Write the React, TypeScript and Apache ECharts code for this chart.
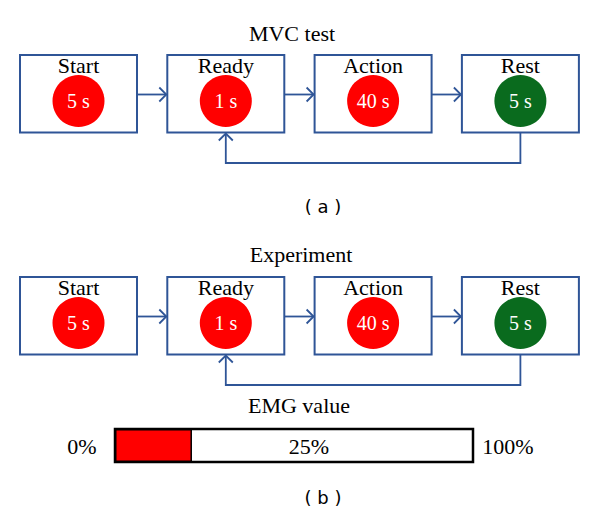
import React, { useEffect, useRef } from 'react';
import * as echarts from 'echarts';

// ---- data ----
const stages = ['Start', 'Ready', 'Action', 'Rest'];
const durations = ['5 s', '1 s', '40 s', '5 s'];
const stageIsRest = [false, false, false, true];
const panelTitles = ['MVC test', 'Experiment'];
const panelTags = ['( a )', '( b )'];
const emgTitle = 'EMG value';
const emgFill = [21.5];
const emgReading = '25%';
const emgEnds = ['0%', '100%'];
const emgCategory = ['EMG'];

// ---- styles / layout ----
const BLUE = '#2F5597';
const RED = '#FF0000';
const GREEN = '#0A6B1E';
const SERIF = "'Liberation Serif', serif";
const SANS = "'DejaVu Sans', sans-serif";
const W = 600;
const H = 513;
const BOX_X0 = 20;
const BOX_STEP = 147.3;
const BOX_W = 117;
const BOX_H = 77.5;
const PANEL_TOPS = [55, 277];
const R = 26;

function makeRender(panel: number) {
  const top = PANEL_TOPS[panel];
  return (params: any, api: any) => {
    const i = api.value(0);
    const left = BOX_X0 + i * BOX_STEP;
    const [x0, y0] = api.coord([left, top]);
    const [x1, y1] = api.coord([left + BOX_W, top + BOX_H]);
    const cx = (x0 + x1) / 2;
    const cy = api.coord([0, top + 46])[1];
    const ly = api.coord([0, top + 10.5])[1];
    const children: any[] = [
      {
        type: 'rect',
        shape: { x: x0, y: y0, width: x1 - x0, height: y1 - y0 },
        style: { fill: '#fff', stroke: BLUE, lineWidth: 2 },
      },
      {
        type: 'text',
        x: cx,
        y: ly,
        style: { text: stages[i], fill: '#000', font: `22px ${SERIF}`, align: 'center', verticalAlign: 'middle' },
      },
      {
        type: 'circle',
        shape: { cx, cy, r: R },
        style: { fill: stageIsRest[i] ? GREEN : RED },
      },
      {
        type: 'text',
        x: cx,
        y: cy,
        style: { text: durations[i], fill: '#fff', font: `20px ${SERIF}`, align: 'center', verticalAlign: 'middle' },
      },
    ];
    const lineStyle = { stroke: BLUE, lineWidth: 1.8, fill: null };
    if (i < stages.length - 1) {
      const ay = api.coord([0, top + 39.5])[1];
      const nx = api.coord([BOX_X0 + (i + 1) * BOX_STEP, 0])[0];
      children.push({ type: 'line', shape: { x1, y1: ay, x2: nx - 1, y2: ay }, style: lineStyle });
      children.push({
        type: 'polyline',
        shape: { points: [[nx - 8, ay - 7], [nx - 1, ay], [nx - 8, ay + 7]] },
        style: lineStyle,
      });
    } else {
      const loopY = api.coord([0, top + 108])[1];
      const rx = api.coord([BOX_X0 + BOX_STEP + BOX_W / 2, 0])[0];
      children.push({
        type: 'polyline',
        shape: { points: [[cx, y1], [cx, loopY], [rx, loopY], [rx, y1 + 1]] },
        style: lineStyle,
      });
      children.push({
        type: 'polyline',
        shape: { points: [[rx - 7, y1 + 8], [rx, y1 + 1], [rx + 7, y1 + 8]] },
        style: lineStyle,
      });
    }
    return { type: 'group', children };
  };
}

export default function App() {
  const ref = useRef<HTMLDivElement>(null);
  useEffect(() => {
    if (!ref.current) return;
    const chart = echarts.init(ref.current, null, { renderer: 'svg' });
    const textEl = (text: string, x: number, y: number, size: number, family: string) => ({
      type: 'text',
      x,
      y,
      style: { text, fill: '#000', font: `${size}px ${family}`, align: 'center', verticalAlign: 'middle' },
    });
    chart.setOption({
      animation: false,
      backgroundColor: '#fff',
      grid: [
        { left: 0, top: 0, width: W, height: H },
        { left: 115, top: 429, width: 358, height: 33 },
      ],
      xAxis: [
        { type: 'value', min: 0, max: W, show: false, gridIndex: 0 },
        { type: 'value', min: 0, max: 100, show: false, gridIndex: 1 },
      ],
      yAxis: [
        { type: 'value', min: 0, max: H, inverse: true, show: false, gridIndex: 0 },
        { type: 'category', data: emgCategory, show: false, gridIndex: 1 },
      ],
      graphic: [
        textEl(panelTitles[0], 292, 33, 22, SERIF),
        textEl(panelTitles[1], 301, 254, 22, SERIF),
        textEl(panelTags[0], 323, 206, 18, SANS),
        textEl(panelTags[1], 323, 497, 18, SANS),
        textEl(emgTitle, 299, 405, 22, SERIF),
        textEl(emgEnds[0], 82, 446, 22, SERIF),
        textEl(emgEnds[1], 508, 446, 22, SERIF),
        { ...textEl(emgReading, 309, 446, 22, SERIF), z: 100 },
      ],
      series: [
        {
          type: 'custom',
          xAxisIndex: 0,
          yAxisIndex: 0,
          clip: false,
          data: stages.map((_, i) => [i, 0]),
          encode: { x: 0, y: 1 },
          renderItem: makeRender(0),
        },
        {
          type: 'custom',
          xAxisIndex: 0,
          yAxisIndex: 0,
          clip: false,
          data: stages.map((_, i) => [i, 0]),
          encode: { x: 0, y: 1 },
          renderItem: makeRender(1),
        },
        {
          type: 'bar',
          xAxisIndex: 1,
          yAxisIndex: 1,
          data: emgFill,
          barWidth: '100%',
          itemStyle: { color: RED, borderColor: '#000', borderWidth: 1.5 },
          showBackground: true,
          backgroundStyle: { color: '#fff', borderColor: '#000', borderWidth: 2.5 },
        },
      ],
    });
    return () => chart.dispose();
  }, []);
  return <div ref={ref} style={{ position: 'absolute', left: 0, top: 0, width: W, height: H }} />;
}
